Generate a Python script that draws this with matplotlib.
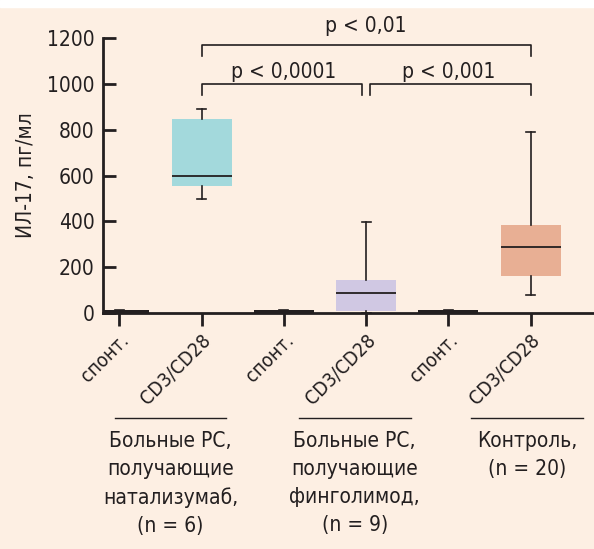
import matplotlib
matplotlib.use('Agg')
import matplotlib.pyplot as plt
from matplotlib.patches import Rectangle
from matplotlib.transforms import ScaledTranslation

plt.rcParams['font.family'] = ['DejaVu Sans']
plt.rcParams['font.stretch'] = 'condensed'

# данные (пг/мл)
tick_labels = ['спонт.', 'CD3/CD28', 'спонт.', 'CD3/CD28', 'спонт.', 'CD3/CD28']
whislo = [0, 497, 0, 0, 0, 77]
q1 = [0, 554, 0, 10, 0, 163]
med = [6, 598, 6, 89, 6, 289]
q3 = [12, 846, 12, 144, 12, 384]
whishi = [12, 890, 12, 398, 12, 791]

groups = ['Больные РС,\nполучающие\nнатализумаб,\n(n = 6)',
          'Больные РС,\nполучающие\nфинголимод,\n(n = 9)',
          'Контроль,\n(n = 20)']
group_x = [0.62, 2.86, 4.96]

# сравнения: (от, до, высота, подпись)
pairs = [(1, 3, 1000, 'p < 0,0001'), (3, 5, 1000, 'p < 0,001'), (1, 5, 1169, 'p < 0,01')]

bg = '#FDEFE3'
dark = '#231F20'
colors = [dark, '#A3D9DC', dark, '#D0C8E3', dark, '#E8AF94']

fig = plt.figure(figsize=(5.94, 5.49), dpi=100)
fig.patch.set_facecolor(bg)
fig.add_artist(Rectangle((0, 1 - 7 / 549), 1, 7 / 549, transform=fig.transFigure,
                         color='white', zorder=0))
ax = fig.add_axes([103 / 594, 236 / 549, 1 - 103 / 594, 275 / 549])
ax.set_facecolor(bg)

stats = []
for i in range(len(tick_labels)):
    stats.append({'whislo': whislo[i], 'q1': q1[i], 'med': med[i], 'q3': q3[i],
                  'whishi': whishi[i], 'fliers': []})
pos = list(range(len(tick_labels)))
bp = ax.bxp(stats, positions=pos, widths=0.73, patch_artist=True, showfliers=False,
            capwidths=0.11,
            boxprops=dict(linewidth=0),
            medianprops=dict(color=dark, linewidth=1.3),
            whiskerprops=dict(color=dark, linewidth=1.2),
            capprops=dict(color=dark, linewidth=1.2))
for b, c in zip(bp['boxes'], colors):
    b.set_facecolor(c)
    b.set_edgecolor(c)

# скобки с p
for a, b, h, txt in pairs:
    d = 0.05
    xa = a + (d if (a == 3) else 0)
    xb = b - (d if (b == 3) else 0)
    top = h > 1100
    drop = 47 if top else 50
    ax.plot([xa, xa, xb, xb], [h - drop, h, h, h - drop], color=dark, lw=1.2, clip_on=False)
    ax.text((a + b) / 2, h + (57 if top else 24), txt, ha='center', va='baseline',
            fontsize=15, color=dark, clip_on=False)

ax.set_xlim(-0.2, 5.77)
ax.set_ylim(0, 1200)
ax.set_yticks([0, 200, 400, 600, 800, 1000, 1200])
ax.set_xticks(pos)
ax.set_xticklabels(tick_labels, rotation=45, ha='right', rotation_mode='anchor', fontsize=14)
shift = ScaledTranslation(6 / 100, 0, fig.dpi_scale_trans)
for lab in ax.get_xticklabels():
    lab.set_transform(lab.get_transform() + shift)
ax.tick_params(axis='y', direction='in', length=9, width=2, labelsize=15, colors=dark, pad=6)
ax.tick_params(axis='x', direction='out', length=9, width=2, colors=dark, pad=4)
ax.set_ylabel('ИЛ-17, пг/мл', fontsize=15, color=dark, labelpad=8)
for s in ['top', 'right']:
    ax.spines[s].set_visible(False)
for s in ['left', 'bottom']:
    ax.spines[s].set_linewidth(2)
    ax.spines[s].set_color(dark)

# подписи групп
tr = ax.get_xaxis_transform()
for gx, g in zip(group_x, groups):
    ax.plot([gx - 0.68, gx + 0.68], [-0.382, -0.382], transform=tr, color=dark, lw=1,
            clip_on=False)
    ax.text(gx, -0.43, g, transform=tr, ha='center', va='top', fontsize=15,
            linespacing=1.5, color=dark)

fig.savefig('out.png', dpi=100, facecolor=fig.get_facecolor())
